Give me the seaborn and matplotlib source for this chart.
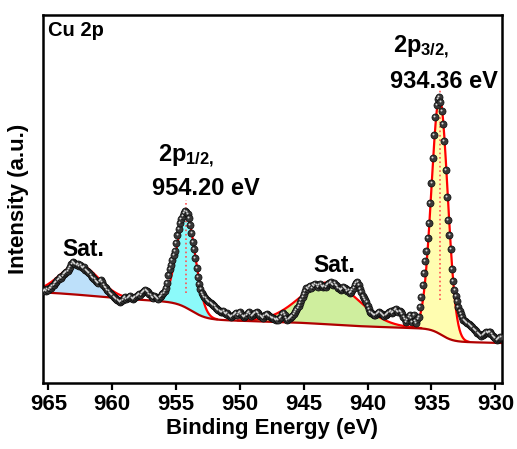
import numpy as np
import pandas as pd
import seaborn as sns
import matplotlib.pyplot as plt
from matplotlib.transforms import ScaledTranslation

# measured Cu 2p spectrum, 965.4 -> 929.6 eV in 0.1 eV steps (arb. units)
energy = np.round(np.arange(965.4, 929.55, -0.1), 1)
counts = [
    92, 93, 92, 94, 93, 95, 95, 97, 98, 100,
    101, 103, 104, 106, 105, 107, 109, 110, 111, 112,
    114, 116, 119, 121, 120, 119, 118, 119, 117, 118,
    116, 115, 116, 113, 112, 111, 110, 108, 106, 105,
    104, 102, 101, 100, 102, 103, 101, 98, 96, 95,
    93, 92, 90, 89, 88, 86, 85, 84, 83, 82,
    81, 82, 83, 85, 86, 84, 85, 86, 87, 85,
    84, 85, 86, 87, 88, 89, 88, 90, 91, 92,
    93, 92, 91, 89, 88, 86, 85, 87, 86, 85,
    84, 86, 87, 89, 90, 92, 95, 100, 108, 114,
    118, 123, 128, 132, 140, 148, 154, 160, 164, 167,
    170, 172, 171, 169, 165, 158, 150, 141, 134, 125,
    115, 106, 99, 94, 90, 88, 86, 85, 83, 82,
    81, 80, 79, 78, 77, 75, 74, 73, 72, 71,
    71, 72, 70, 69, 70, 68, 67, 66, 67, 68,
    69, 70, 68, 70, 71, 69, 67, 66, 67, 68,
    70, 71, 69, 67, 68, 69, 70, 71, 70, 68,
    67, 66, 65, 67, 68, 69, 68, 67, 66, 65,
    65, 64, 63, 64, 63, 65, 66, 69, 70, 68,
    65, 63, 64, 65, 66, 67, 69, 71, 73, 75,
    77, 80, 83, 86, 89, 92, 95, 94, 96, 97,
    95, 98, 97, 99, 98, 96, 98, 99, 97, 96,
    97, 96, 98, 99, 100, 101, 99, 98, 100, 98,
    97, 95, 94, 93, 94, 96, 95, 94, 92, 93,
    90, 91, 93, 95, 98, 100, 101, 98, 94, 91,
    87, 85, 83, 81, 77, 74, 71, 70, 69, 68,
    68, 69, 70, 71, 70, 69, 68, 67, 68, 69,
    70, 71, 72, 70, 71, 73, 74, 72, 71, 72,
    71, 69, 66, 64, 61, 63, 66, 68, 65, 61,
    68, 62, 60, 64, 66, 76, 86, 98, 110, 122,
    132, 145, 160, 180, 200, 225, 248, 266, 278, 284,
    286, 281, 272, 259, 242, 213, 186, 163, 148, 134,
    114, 102, 93, 87, 82, 76, 72, 69, 66, 63,
    62, 61, 60, 59, 58, 57, 56, 54, 53, 52,
    50, 49, 48, 47, 48, 49, 50, 51, 50, 51,
    51, 49, 47, 46, 45, 43, 44, 45, 46,
]

# fitted components: Sat., 2p1/2, Sat., 2p3/2
peak_center = [962.6, 954.22, 943.0, 934.36]
peak_height = [30, 94, 42, 236]
peak_fwhm = [3.6, 1.7, 5.4, 1.5]
peak_color = ["#BDE0FA", "#8CFAFA", "#CFEE9E", "#FFFDB0"]

# shirley-like background: offset, slope, steps (center, height, width)
bg_offset, bg_slope = 40, 0.3
step_center = [934.2, 943.0, 953.8, 961.0]
step_height = [13, 3, 17, 8]
step_width = [0.45, 1.5, 0.6, 2.5]

spec = pd.DataFrame({"energy": energy, "counts": counts})

e_fit = np.linspace(965.45, 929.5, 1200)
bg = bg_offset + bg_slope * (e_fit - 929.5)
for c, h, w in zip(step_center, step_height, step_width):
    bg = bg + h / (1 + np.exp(-(e_fit - c) / w))

sns.set_style("ticks")
plt.rcParams["font.family"] = ["Liberation Sans", "DejaVu Sans"]
plt.rcParams["font.weight"] = "bold"
plt.rcParams["text.color"] = "black"
plt.rcParams["axes.labelcolor"] = "black"
plt.rcParams["xtick.color"] = "black"
plt.rcParams["mathtext.fontset"] = "custom"
plt.rcParams["mathtext.rm"] = "Liberation Sans:bold"
plt.rcParams["mathtext.bf"] = "Liberation Sans:bold"

fig = plt.figure(figsize=(5.17, 4.49), dpi=100)
ax = fig.add_axes([0.0826, 0.147, 0.8878, 0.8196])

for c, h, w, col in zip(peak_center, peak_height, peak_fwhm, peak_color):
    comp = h * np.exp(-4 * np.log(2) * ((e_fit - c) / w) ** 2)
    ax.fill_between(e_fit, bg, bg + comp, color=col, lw=0, zorder=1)
    edge = np.where(comp > 0.3, bg + comp, np.nan)
    ax.plot(e_fit, edge, color="#FF0000", lw=1.6, zorder=2)

ax.plot(e_fit, bg, color="#B00000", lw=1.6, zorder=2)

# peak position markers
ax.plot([934.36, 934.36], [83, 293], color="#FF5050", ls=":", lw=1.2, zorder=3)
ax.plot([954.2, 954.2], [90, 183], color="#FF5050", ls=":", lw=1.2, zorder=3)

sns.scatterplot(data=spec, x="energy", y="counts", ax=ax, s=26,
                color="#383838", edgecolor="#0a0a0a", linewidth=0.5, zorder=4)
hl = ax.transData + ScaledTranslation(-0.6 / 72, 0.6 / 72, fig.dpi_scale_trans)
ax.scatter(spec["energy"], spec["counts"], s=2, color="#d8d8d8",
           lw=0, zorder=5, transform=hl)

ax.set_xlim(965.45, 929.5)
ax.set_ylim(0, 368)
ax.set_xticks([965, 960, 955, 950, 945, 940, 935, 930])
ax.set_yticks([])
ax.tick_params(axis="x", direction="out", length=5, width=1.6, labelsize=16,
               pad=3, colors="black")
for s in ax.spines.values():
    s.set_linewidth(1.8)
    s.set_color("black")

ax.set_xlabel("Binding Energy (eV)", fontsize=16, fontweight="bold", labelpad=2)
ax.set_ylabel("Intensity (a.u.)", fontsize=16, fontweight="bold", labelpad=10)

ax.text(0.012, 0.943, "Cu 2p", transform=ax.transAxes, fontsize=14.5, fontweight="bold")
ax.text(963.93, 127, "Sat.", fontsize=16.5, fontweight="bold")
ax.text(944.27, 111, "Sat.", fontsize=16.5, fontweight="bold")
ax.text(956.41, 221, r"$\mathbf{2p_{1/2,}}$", fontsize=17)
ax.text(956.88, 188, "954.20 eV", fontsize=17, fontweight="bold")
ax.text(938.01, 330, r"$\mathbf{2p_{3/2,}}$", fontsize=17)
ax.text(938.24, 295, "934.36 eV", fontsize=17, fontweight="bold")

fig.savefig("out.png", dpi=100)
